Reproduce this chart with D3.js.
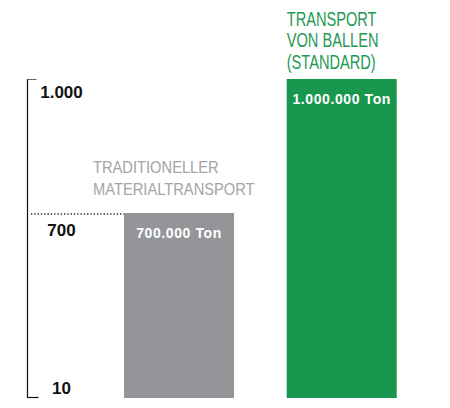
<!DOCTYPE html>
<html>
<head>
<meta charset="utf-8">
<script src="https://cdn.jsdelivr.net/npm/d3@7"></script>
<style>
  html, body { margin: 0; padding: 0; background: #fff; }
  svg { display: block; }
</style>
</head>
<body>
<svg id="chart" width="450" height="408"></svg>
<script>
// ---- data ----
const categories = ["TRADITIONELLER MATERIALTRANSPORT", "TRANSPORT VON BALLEN (STANDARD)"];
const categoryLines = [["TRADITIONELLER", "MATERIALTRANSPORT"], ["TRANSPORT", "VON BALLEN", "(STANDARD)"]];
const values = [700, 1000];
const valueLabels = ["700.000 Ton", "1.000.000 Ton"];
const tickValues = [10, 700, 1000];
const tickLabels = ["10", "700", "1.000"];
const barColors = ["#939598", "#19974f"];
const textColors = ["#a3a4a7", "#1f9a55"];

// ---- layout ----
const svg = d3.select("#chart");
const font = "'Liberation Sans', Arial, sans-serif";

const y = d3.scaleLinear().domain([10, 700, 1000]).range([398, 213, 79]);
const x = d3.scaleBand().domain(categories).range([124, 396.7]).paddingInner(0.324).paddingOuter(0);

// axis line
const axisX = 27.5;
svg.append("line")
  .attr("x1", axisX).attr("x2", axisX)
  .attr("y1", y(1000)).attr("y2", y(10))
  .attr("stroke", "#111").attr("stroke-width", 1.2);
svg.append("line")
  .attr("x1", axisX).attr("x2", 36.5)
  .attr("y1", y(1000) + 0.5).attr("y2", y(1000) + 0.5)
  .attr("stroke", "#666").attr("stroke-width", 1);
svg.append("line")
  .attr("x1", axisX).attr("x2", 38.5)
  .attr("y1", y(10) - 0.5).attr("y2", y(10) - 0.5)
  .attr("stroke", "#111").attr("stroke-width", 1.2);

// tick labels
svg.selectAll("text.tick")
  .data(tickValues)
  .join("text")
  .attr("class", "tick")
  .attr("x", 61.5)
  .attr("y", d => d === 10 ? y(d) - 4 : y(d) + (d === 1000 ? 18.5 : 23))
  .attr("text-anchor", "middle")
  .attr("font-family", font)
  .attr("font-weight", "bold")
  .attr("font-size", 17)
  .attr("fill", "#111")
  .text((d, i) => tickLabels[i]);

// dotted reference line at 700
svg.append("line")
  .attr("x1", 31).attr("x2", x(categories[0]))
  .attr("y1", y(700) + 1).attr("y2", y(700) + 1)
  .attr("stroke", "#222").attr("stroke-width", 1.3)
  .attr("stroke-dasharray", "1.3,2");

// bars
svg.selectAll("rect.bar")
  .data(values)
  .join("rect")
  .attr("class", "bar")
  .attr("x", (d, i) => x(categories[i]))
  .attr("width", x.bandwidth())
  .attr("y", d => y(d))
  .attr("height", d => y(10) - y(d))
  .attr("fill", (d, i) => barColors[i]);

// value labels inside bars
svg.selectAll("text.val")
  .data(values)
  .join("text")
  .attr("class", "val")
  .attr("x", (d, i) => x(categories[i]) + x.bandwidth() / 2)
  .attr("y", d => y(d) + 25)
  .attr("text-anchor", "middle")
  .attr("font-family", font)
  .attr("font-weight", "bold")
  .attr("font-size", 14)
  .attr("letter-spacing", "0.6px")
  .attr("fill", "#fff")
  .text((d, i) => valueLabels[i]);

// category labels above bars (condensed look via horizontal scaling)
categories.forEach((c, i) => {
  const lines = categoryLines[i];
  const lineH = 21.5;
  const lastBase = y(values[i]) - (i === 0 ? 18 : 10);
  const x0 = i === 0 ? x(c) - 31 : x(c);
  const sx = i === 0 ? 0.865 : 0.75;
  const t = svg.append("text")
    .attr("transform", `translate(${x0},0) scale(${sx},1)`)
    .attr("font-family", font)
    .attr("font-size", i === 0 ? 17 : 19.5)
    .attr("fill", textColors[i]);
  lines.forEach((ln, j) => {
    t.append("tspan")
      .attr("x", 0)
      .attr("y", lastBase - (lines.length - 1 - j) * lineH)
      .text(ln);
  });
});
</script>
</body>
</html>
